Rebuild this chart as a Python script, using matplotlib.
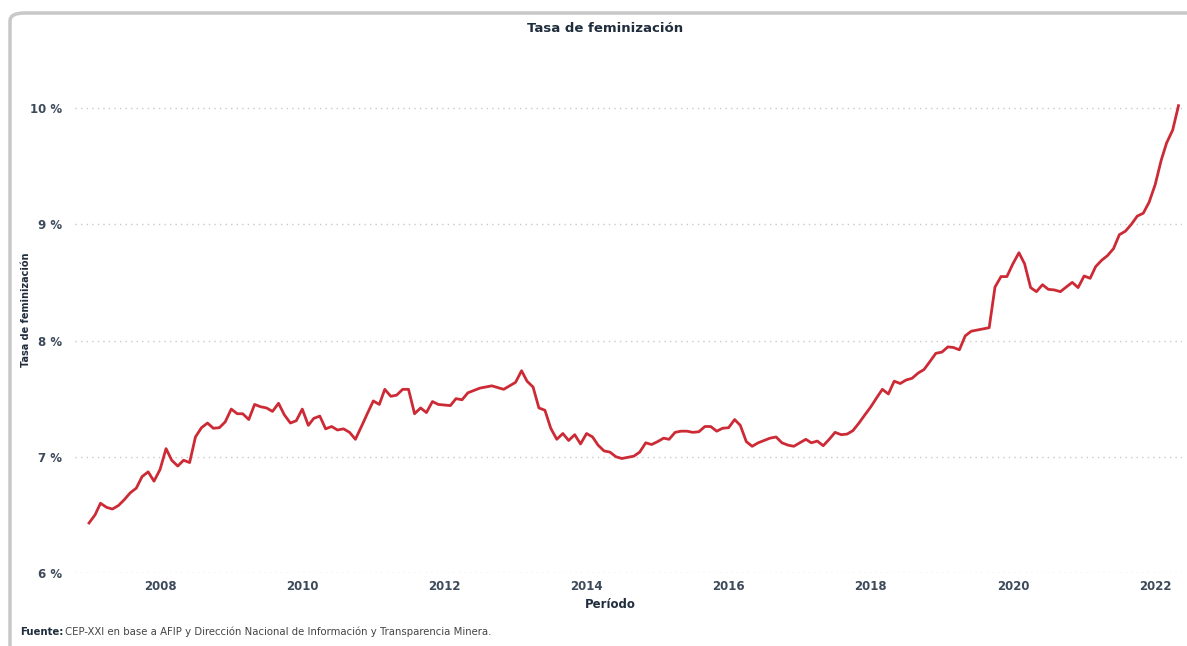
import pandas as pd
import matplotlib.pyplot as plt
import matplotlib.dates as mdates
from matplotlib.patches import FancyBboxPatch
from matplotlib.ticker import FuncFormatter

# tasa de feminizacion mensual (%), ene-2007 a may-2022
tasa_2007 = [6.43, 6.50, 6.60, 6.565, 6.55, 6.58, 6.63, 6.69, 6.73, 6.83, 6.87, 6.79]
tasa_2008 = [6.89, 7.07, 6.97, 6.92, 6.97, 6.95, 7.17, 7.25, 7.29, 7.245, 7.25, 7.30]
tasa_2009 = [7.41, 7.37, 7.37, 7.32, 7.45, 7.43, 7.42, 7.39, 7.46, 7.36, 7.29, 7.31]
tasa_2010 = [7.41, 7.27, 7.33, 7.35, 7.24, 7.26, 7.23, 7.24, 7.21, 7.15, 7.26, 7.37]
tasa_2011 = [7.48, 7.45, 7.58, 7.52, 7.53, 7.58, 7.58, 7.37, 7.42, 7.38, 7.475, 7.45]
tasa_2012 = [7.445, 7.44, 7.50, 7.49, 7.55, 7.57, 7.59, 7.60, 7.61, 7.595, 7.58, 7.61]
tasa_2013 = [7.64, 7.74, 7.65, 7.60, 7.42, 7.40, 7.245, 7.15, 7.20, 7.14, 7.19, 7.11]
tasa_2014 = [7.20, 7.17, 7.10, 7.05, 7.04, 7.00, 6.985, 6.995, 7.005, 7.04, 7.12, 7.105]
tasa_2015 = [7.13, 7.16, 7.15, 7.21, 7.22, 7.22, 7.21, 7.215, 7.26, 7.26, 7.22, 7.245]
tasa_2016 = [7.25, 7.32, 7.27, 7.13, 7.09, 7.12, 7.14, 7.16, 7.17, 7.12, 7.10, 7.09]
tasa_2017 = [7.12, 7.15, 7.12, 7.135, 7.095, 7.15, 7.21, 7.19, 7.195, 7.225, 7.29, 7.36]
tasa_2018 = [7.43, 7.51, 7.58, 7.54, 7.65, 7.63, 7.66, 7.675, 7.72, 7.75, 7.82, 7.89]
tasa_2019 = [7.90, 7.945, 7.94, 7.92, 8.04, 8.08, 8.09, 8.10, 8.11, 8.46, 8.55, 8.55]
tasa_2020 = [8.66, 8.755, 8.66, 8.455, 8.42, 8.48, 8.44, 8.435, 8.42, 8.46, 8.50, 8.455]
tasa_2021 = [8.555, 8.535, 8.635, 8.69, 8.73, 8.79, 8.91, 8.94, 9.00, 9.07, 9.095, 9.19]
tasa_2022 = [9.34, 9.55, 9.70, 9.81, 10.02]

y_ticks = [6, 7, 8, 9, 10]
anios_ticks = [2008, 2010, 2012, 2014, 2016, 2018, 2020, 2022]

tasa = (tasa_2007 + tasa_2008 + tasa_2009 + tasa_2010 + tasa_2011 + tasa_2012
        + tasa_2013 + tasa_2014 + tasa_2015 + tasa_2016 + tasa_2017 + tasa_2018
        + tasa_2019 + tasa_2020 + tasa_2021 + tasa_2022)
df = pd.DataFrame({"tasa": tasa},
                  index=pd.date_range("2007-01-01", periods=len(tasa), freq="MS"))

azul = "#1f2d3d"
gris = "#3d4a5a"

fig = plt.figure(figsize=(11.87, 6.46), dpi=100)

# recuadro del panel
panel = FancyBboxPatch((10 / 1187, -0.05), 1.2, 1 - 13 / 646 + 0.05,
                       boxstyle="round,pad=0,rounding_size=0.012",
                       transform=fig.transFigure, facecolor="none",
                       edgecolor="#c8c8c8", linewidth=2.5, zorder=-1)
fig.patches.append(panel)

ax = fig.add_axes([75 / 1187, 1 - 573 / 646, 1107 / 1187, (573 - 45) / 646])
ax.set_facecolor("none")

ax.plot(df.index, df["tasa"], color="#cc2b36", linewidth=2.0, solid_joinstyle="round")

ax.set_ylim(6, 10 + 63 / 116.25)
ax.set_xlim(pd.Timestamp("2006-10-21"), pd.Timestamp("2022-05-19"))
ax.set_yticks(y_ticks)
ax.yaxis.set_major_formatter(FuncFormatter(lambda v, p: f"{v:.0f} %"))
ax.set_xticks([pd.Timestamp(f"{a}-01-01") for a in anios_ticks])
ax.xaxis.set_major_formatter(mdates.DateFormatter("%Y"))

ax.grid(axis="y", linestyle=(0, (1, 3)), color="#c9c9c9", linewidth=1)
ax.tick_params(length=0, labelsize=8.5, labelcolor=gris)
ax.tick_params(axis="y", pad=9)
ax.tick_params(axis="x", pad=5)
for lab in ax.get_xticklabels() + ax.get_yticklabels():
    lab.set_fontweight("bold")
for s in ax.spines.values():
    s.set_visible(False)

fig.text(605 / 1187, 1 - 28 / 646, "Tasa de feminización", ha="center", va="center",
         fontsize=9.5, fontweight="bold", color=azul)
fig.text(26 / 1187, 1 - 310 / 646, "Tasa de feminización", ha="center", va="center",
         rotation=90, fontsize=7, fontweight="bold", color=azul)
fig.text(610 / 1187, 1 - 604 / 646, "Período", ha="center", va="center",
         fontsize=8.5, fontweight="bold", color=azul)

t = fig.text(20 / 1187, 1 - 632 / 646, "Fuente:", ha="left", va="center",
             fontsize=7.3, fontweight="bold", color=azul)
fig.canvas.draw()
bb = t.get_window_extent()
fig.text(bb.x1 / fig.bbox.width + 2 / 1187, 1 - 632 / 646,
         "CEP-XXI en base a AFIP y Dirección Nacional de Información y Transparencia Minera.",
         ha="left", va="center", fontsize=7.3, color="#444444")

plt.savefig("out.png", dpi=100)
